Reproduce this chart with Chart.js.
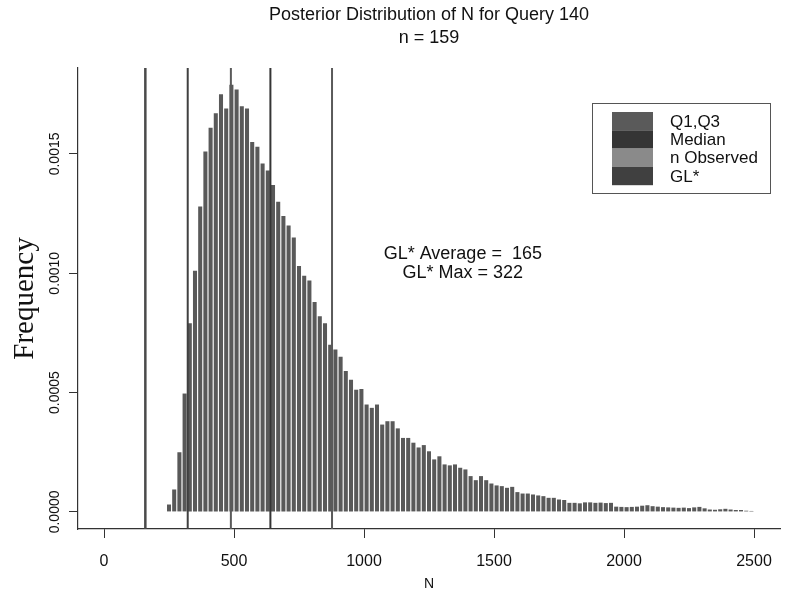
<!DOCTYPE html>
<html>
<head>
<meta charset="utf-8">
<script src="https://cdn.jsdelivr.net/npm/chart.js@4.4.0/dist/chart.umd.min.js"></script>
<style>
  html, body { margin: 0; padding: 0; background: #fff; }
</style>
</head>
<body>
<canvas id="postChart" width="790" height="593"></canvas>
<script>
// Posterior of N, histogram bins of width 20 (first bin centred on 250)
const binStart = 250;
const binWidth = 20;
const frequency = [
    0.000031, 0.000094, 0.00025, 0.000496, 0.00079, 0.00101, 0.00128, 0.00151, 0.00161, 0.00167,
    0.00175, 0.00169, 0.00179, 0.00177, 0.00170, 0.00169, 0.00155, 0.00153, 0.00146, 0.00143,
    0.00137, 0.00130, 0.00124, 0.00120, 0.00115, 0.00103, 0.00099, 0.00097, 0.00088, 0.00082,
    0.00079, 0.00070, 0.00068, 0.00065, 0.00059, 0.000554, 0.000512, 0.000515, 0.00045, 0.000436,
    0.00045, 0.000366, 0.00038, 0.00038, 0.00035, 0.00031, 0.00031, 0.00029, 0.00027, 0.00028,
    0.000254, 0.00022, 0.000233, 0.000199, 0.000195, 0.000199, 0.000185, 0.000178, 0.00015, 0.000133,
    0.00015, 0.000133, 0.000119, 0.000111, 0.000108, 0.000101, 0.000105, 0.000083, 0.000077, 0.000077,
    0.000073, 0.000069, 0.000066, 0.000059, 0.000059, 0.000052, 0.00005, 0.000038, 0.000038, 0.000036,
    0.00004, 0.00004, 0.000038, 0.000039, 0.000037, 0.000038, 0.000022, 0.000021, 0.00002, 0.000021,
    0.000022, 0.000026, 0.000028, 0.000024, 0.000022, 0.00002, 0.000019, 0.000018, 0.000017, 0.000018,
    0.000016, 0.000019, 0.000021, 0.000015, 0.00001, 0.000009, 0.000011, 0.000013, 0.00001, 0.000008,
    0.000008, 0.000005, 0.000004
];

const xTicks = [0, 500, 1000, 1500, 2000, 2500];
const yTicks = [0, 0.0005, 0.0010, 0.0015];

// vertical reference lines
const markerNames = ['n Observed', 'GL*', 'Q1', 'Median', 'Q3'];
const markerValues = [159, 322, 488, 640, 877];

const legendLabels = ['Q1,Q3', 'Median', 'n Observed', 'GL*'];
const legendColors = ['#5a5a5a', '#353535', '#8a8a8a', '#404040'];

const nObserved = 159;
const glAverage = 165;
const glMax = 322;

const X_MIN = -100, X_MAX = 2600;
const Y_MIN = -0.0000716, Y_MAX = 0.00186;

const sansFont = '"Liberation Sans", Arial, Helvetica, sans-serif';

const histData = frequency.map((f, i) => ({ x: binStart + i * binWidth, y: f }));

const lineColor = (name) => {
    if (name === 'Q1' || name === 'Q3') return legendColors[0];
    if (name === 'Median') return legendColors[1];
    if (name === 'n Observed') return '#4a4a4a';
    return legendColors[3];
};

const lineSets = markerNames.map((name, i) => ({
    type: 'line',
    label: name,
    data: [{ x: markerValues[i], y: Y_MIN }, { x: markerValues[i], y: Y_MAX }],
    borderColor: lineColor(name),
    borderWidth: name === 'n Observed' ? 2.5 : 2,
    pointRadius: 0,
    fill: false,
    order: 1
}));

// legend box + GL* text, drawn inside the plot
const overlayPlugin = {
    id: 'overlay',
    afterDraw(chart) {
        const { ctx, chartArea, scales } = chart;
        ctx.save();

        ctx.font = '18px ' + sansFont;
        ctx.fillStyle = '#111';
        ctx.textAlign = 'center';
        ctx.textBaseline = 'middle';
        const ax = scales.x.getPixelForValue(1380);
        const ay = scales.y.getPixelForValue(0.00104);
        ctx.fillText('GL* Average =  ' + glAverage, ax, ay - 9.5);
        ctx.fillText('GL* Max = ' + glMax, ax, ay + 9.5);

        const boxW = 178, boxH = 90;
        const boxL = chartArea.right - 10 - boxW;
        const boxT = chartArea.top + 35;
        ctx.fillStyle = '#fff';
        ctx.fillRect(boxL, boxT, boxW, boxH);
        ctx.strokeStyle = '#555';
        ctx.lineWidth = 1;
        ctx.strokeRect(boxL + 0.5, boxT + 0.5, boxW, boxH);

        const rowH = 18.3;
        ctx.font = '17px ' + sansFont;
        ctx.textAlign = 'left';
        legendLabels.forEach((lab, i) => {
            const ry = boxT + 9 + i * rowH;
            ctx.fillStyle = legendColors[i];
            ctx.fillRect(boxL + 20, ry, 41, rowH);
            ctx.fillStyle = '#111';
            ctx.fillText(lab, boxL + 78, ry + rowH / 2 + 1);
        });
        ctx.restore();
    }
};

new Chart(document.getElementById('postChart'), {
    type: 'bar',
    data: {
        datasets: [{
            type: 'bar',
            label: 'Frequency',
            data: histData,
            backgroundColor: '#595959',
            borderWidth: 0,
            barPercentage: 0.78,
            categoryPercentage: 1,
            order: 2
        }, ...lineSets]
    },
    options: {
        responsive: false,
        animation: false,
        layout: { padding: { top: 0, right: 10, bottom: 0, left: 0 } },
        plugins: {
            legend: { display: false },
            tooltip: { enabled: false },
            title: {
                display: true,
                fullSize: false,
                text: ['Posterior Distribution of N for Query 140', 'n = ' + nObserved],
                color: '#111',
                font: { family: sansFont, size: 18, weight: 'normal', lineHeight: 1.25 },
                padding: { top: 4, bottom: 19 }
            }
        },
        scales: {
            x: {
                type: 'linear',
                min: X_MIN,
                max: X_MAX,
                offset: false,
                afterBuildTicks: (s) => { s.ticks = xTicks.map(v => ({ value: v })); },
                afterFit: (s) => { s.height = 64; },
                grid: { drawOnChartArea: false, offset: false, tickLength: 9, color: '#333', lineWidth: 1 },
                border: { color: '#333', width: 1.2 },
                ticks: {
                    color: '#111',
                    padding: 14,
                    maxRotation: 0,
                    font: { family: sansFont, size: 16 },
                    callback: (v) => String(v)
                },
                title: {
                    display: true,
                    text: 'N',
                    color: '#111',
                    font: { family: sansFont, size: 14, lineHeight: 1.2 },
                    padding: { top: 0, bottom: 0 }
                }
            },
            y: {
                min: Y_MIN,
                max: Y_MAX,
                afterBuildTicks: (s) => { s.ticks = yTicks.map(v => ({ value: v })); },
                afterFit: (s) => { s.width = 78; },
                grid: { drawOnChartArea: false, tickLength: 9, color: '#333', lineWidth: 1 },
                border: { color: '#333', width: 1.2 },
                ticks: {
                    color: '#111',
                    minRotation: 90,
                    maxRotation: 90,
                    crossAlign: 'center',
                    padding: -8,
                    font: { family: sansFont, size: 14 },
                    callback: (v) => v.toFixed(4)
                },
                title: {
                    display: true,
                    text: 'Frequency',
                    color: '#111',
                    font: { family: '"Liberation Serif", "Times New Roman", serif', size: 29, lineHeight: 1.2 },
                    padding: { top: 8, bottom: 0 }
                }
            }
        }
    },
    plugins: [overlayPlugin]
});
</script>
</body>
</html>
